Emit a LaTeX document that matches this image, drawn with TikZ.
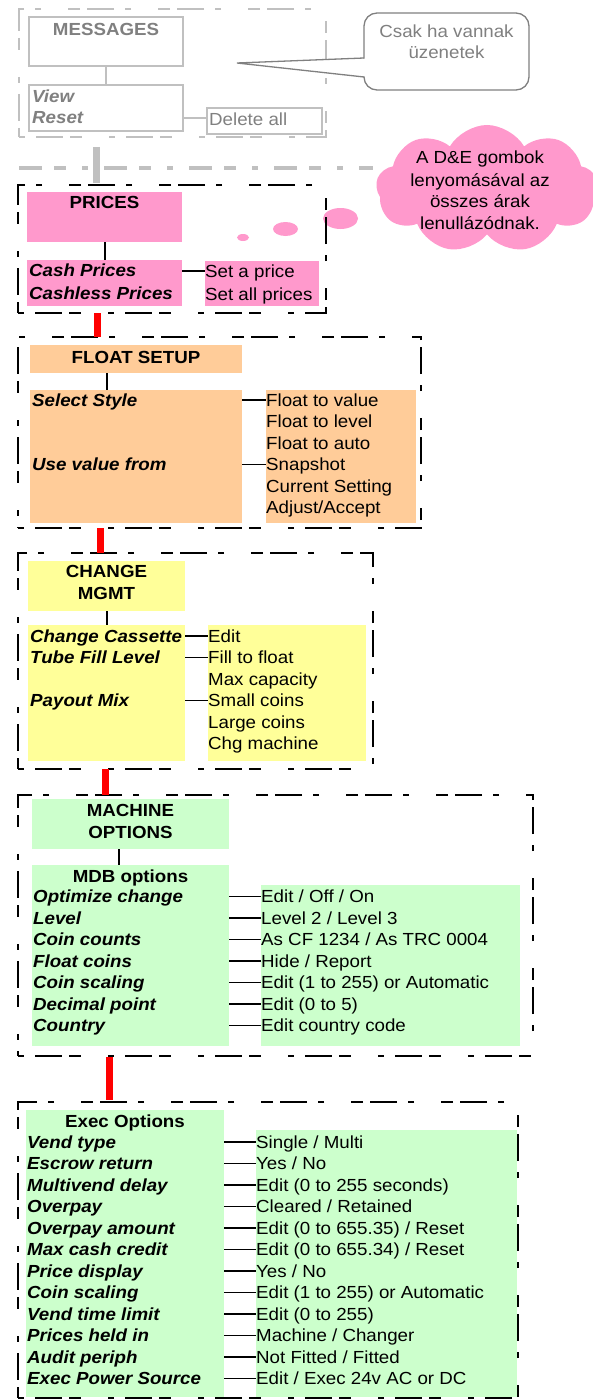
\documentclass[tikz,border=0pt]{standalone}
\usepackage{fontspec}
\setmainfont{Liberation Sans}[FakeStretch=1.07]
\usetikzlibrary{shapes.symbols,shapes.geometric}
\definecolor{pinkfill}{HTML}{FF99CC}
\definecolor{orangefill}{HTML}{FFCC99}
\definecolor{yellowfill}{HTML}{FFFF99}
\definecolor{greenfill}{HTML}{CCFFCC}
\definecolor{framegray}{HTML}{C0C0C0}
\definecolor{textgray}{HTML}{808080}
\newcommand{\boxfont}{\fontsize{17.5pt}{21.5pt}\selectfont}

\begin{document}
\begin{tikzpicture}[
    x=1pt, y=-1pt,
    panel/.style={rectangle, anchor=north west, inner sep=0pt, outer sep=0pt},
    pinkbox/.style={panel, fill=pinkfill},
    orangebox/.style={panel, fill=orangefill},
    yellowbox/.style={panel, fill=yellowfill},
    greenbox/.style={panel, fill=greenfill},
    msgbox/.style={panel, draw=framegray, line width=1.3pt, fill=white},
    notebox/.style={panel, rounded corners=13pt, draw=textgray, line width=1.3pt, fill=white},
    frame/.style={panel, draw=black, line width=2.2pt, dash pattern=on 6pt off 11pt on 27pt off 7pt on 12pt off 27pt},
    grayframe/.style={frame, draw=framegray},
    bubble/.style={ellipse, fill=pinkfill, inner sep=0pt},
    itemtext/.style={anchor=base west, inner sep=0pt, text height=15pt, text depth=3pt, font=\boxfont\bfseries\itshape},
    opttext/.style={anchor=base west, inner sep=0pt, text height=15pt, text depth=3pt, font=\boxfont},
    titletext/.style={anchor=base, inner sep=0pt, font=\boxfont\bfseries},
    notetext/.style={anchor=base, inner sep=0pt, font=\boxfont},
    link/.style={draw=black, line width=1.3pt},
    graylink/.style={link, draw=framegray},
    redlink/.style={draw=red, line width=7pt},
    sepline/.style={draw=framegray, line width=4pt, dash pattern=on 23pt off 12pt on 12pt off 16pt on 6pt off 16pt}
]
\useasboundingbox (0,0) rectangle (592,1399);

% Messages (greyed out)
\node[grayframe, minimum width=307pt, minimum height=128pt] (msgframe) at (19,9) {};
\node[msgbox, minimum width=154pt, minimum height=49pt] (msgtitle) at (29,17) {};
\node[msgbox, minimum width=154pt, minimum height=46pt] (msgitems) at (29,85) {};
\node[msgbox, minimum width=115pt, minimum height=26pt] (msgdel) at (207,108) {};
\node[titletext, text=textgray] (msgttl) at (106,36) {MESSAGES};
\node[itemtext, text=textgray] (view) at (32,103) {View};
\node[itemtext, text=textgray] (reset) at (32,124) {Reset};
\node[opttext, text=textgray] (delall) at (209,126) {Delete all};
\draw[graylink] ([xshift=77pt]msgtitle.south west) -- ([xshift=77pt]msgitems.north west);
\draw[graylink] (msgitems.east |- reset) -- (msgdel.west |- reset);

% Callout
\node[notebox, minimum width=165pt, minimum height=77pt] (msgnote) at (364,13) {};
\coordinate (notetip) at (237,63);
\fill[white] ([yshift=-45.6pt]msgnote.north west) -- ([xshift=2pt,yshift=-45.6pt]msgnote.north west)
    -- ([xshift=2pt,yshift=-63.4pt]msgnote.north west) -- ([yshift=-63.4pt]msgnote.north west) -- (notetip) -- cycle;
\draw[draw=textgray, line width=1.3pt] ([yshift=-45pt]msgnote.north west) -- (notetip) -- ([yshift=-64pt]msgnote.north west);
\node[notetext, text=textgray] (note1) at (446.5,38) {Csak ha vannak};
\node[notetext, text=textgray] (note2) at (446.5,59) {üzenetek};

% Separator
\coordinate (sepL) at (19,168);
\coordinate (sepR) at (373,168);
\draw[sepline] (sepL) -- (sepR);

% Cloud note
\node[bubble, minimum width=12pt, minimum height=7pt] (bub3) at (243,237.5) {};
\node[bubble, minimum width=25pt, minimum height=14pt] (bub2) at (285.5,229) {};
\node[bubble, minimum width=35pt, minimum height=21pt] (bub1) at (340.5,218.5) {};
\node[cloud, cloud puffs=9, cloud puff arc=120, cloud ignores aspect, fill=pinkfill, minimum width=222pt, minimum height=128pt, inner sep=0pt] (dnote) at (487,189) {};
\node[notetext] (dnote1) at (480,164) {A D\&E gombok};
\node[notetext] (dnote2) at (480,186) {lenyomásával az};
\node[notetext] (dnote3) at (480,207.5) {összes árak};
\node[notetext] (dnote4) at (480,229) {lenullázódnak.};

% Prices
\node[frame, minimum width=308pt, minimum height=128pt] (pricesframe) at (18,185) {};
\node[pinkbox, minimum width=155pt, minimum height=50pt] (pricestitle) at (27,192) {};
\node[pinkbox, minimum width=155pt, minimum height=46pt] (priceitems) at (27,260) {};
\node[pinkbox, minimum width=114pt, minimum height=45pt] (priceopts) at (205,261) {};
\node[titletext] (pricesttl) at (104.5,208) {PRICES};
\node[itemtext] (cashp) at (29,276) {Cash Prices};
\node[itemtext] (cashlessp) at (29,299) {Cashless Prices};
\node[opttext] (setone) at (205,277) {Set a price};
\node[opttext] (setall) at (205,300) {Set all prices};
\draw[link] ([xshift=78pt]pricestitle.south west) -- ([xshift=78pt]priceitems.north west);
\draw[link] (priceitems.east |- setone) -- (setone.west);

% Float setup
\node[frame, minimum width=403pt, minimum height=191pt] (floatframe) at (18,337) {};
\node[orangebox, minimum width=212pt, minimum height=28pt] (floattitle) at (30,345) {};
\node[orangebox, minimum width=212pt, minimum height=133pt] (floatitems) at (30,390) {};
\node[orangebox, minimum width=150pt, minimum height=133pt] (floatopts) at (266,390) {};
\node[titletext] (floatttl) at (136,363) {FLOAT SETUP};
\node[itemtext] (selstyle) at (32,406) {Select Style};
\node[itemtext] (usevalue) at (32,470.5) {Use value from};
\node[opttext] (fto1) at (266,406) {Float to value};
\node[opttext] (fto2) at (266,427.5) {Float to level};
\node[opttext] (fto3) at (266,449) {Float to auto};
\node[opttext] (fto4) at (266,470.5) {Snapshot};
\node[opttext] (fto5) at (266,492) {Current Setting};
\node[opttext] (fto6) at (266,513.5) {Adjust/Accept};
\draw[link] ([xshift=77pt]floattitle.south west) -- ([xshift=77pt]floatitems.north west);
\draw[link] (floatitems.east |- fto1) -- (fto1.west);
\draw[link] (floatitems.east |- fto4) -- (fto4.west);

% Change management
\node[frame, minimum width=355pt, minimum height=216pt] (chgframe) at (18,553) {};
\node[yellowbox, minimum width=157pt, minimum height=50pt] (chgtitle) at (28,561) {};
\node[yellowbox, minimum width=157pt, minimum height=136pt] (chgitems) at (28,625) {};
\node[yellowbox, minimum width=158pt, minimum height=136pt] (chgopts) at (208,625) {};
\node[titletext] (chgttl1) at (106.5,577) {CHANGE};
\node[titletext] (chgttl2) at (106.5,599) {MGMT};
\node[itemtext] (cassette) at (30,642) {Change Cassette};
\node[itemtext] (tubefill) at (30,663.5) {Tube Fill Level};
\node[itemtext] (payout) at (30,706.5) {Payout Mix};
\node[opttext] (chg1) at (208,642) {Edit};
\node[opttext] (chg2) at (208,663.5) {Fill to float};
\node[opttext] (chg3) at (208,685) {Max capacity};
\node[opttext] (chg4) at (208,706.5) {Small coins};
\node[opttext] (chg5) at (208,728) {Large coins};
\node[opttext] (chg6) at (208,749.5) {Chg machine};
\draw[link] ([xshift=79pt]chgtitle.south west) -- ([xshift=79pt]chgitems.north west);
\draw[link] (chgitems.east |- chg1) -- (chg1.west);
\draw[link] (chgitems.east |- chg2) -- (chg2.west);
\draw[link] (chgitems.east |- chg4) -- (chg4.west);

% Machine options
\node[frame, minimum width=515pt, minimum height=261pt] (machframe) at (18,795) {};
\node[greenbox, minimum width=197pt, minimum height=50pt] (machtitle) at (32,799) {};
\node[greenbox, minimum width=197pt, minimum height=181pt] (machitems) at (32,865) {};
\node[greenbox, minimum width=259pt, minimum height=161pt] (machopts) at (261,885) {};
\node[titletext] (machttl1) at (130.5,816) {MACHINE};
\node[titletext] (machttl2) at (130.5,838) {OPTIONS};
\node[titletext] (mdbttl) at (130.5,882) {MDB options};
\node[itemtext] (optchg) at (33,902.5) {Optimize change};
\node[itemtext] (level) at (33,924) {Level};
\node[itemtext] (coincnt) at (33,945.5) {Coin counts};
\node[itemtext] (floatcoin) at (33,967) {Float coins};
\node[itemtext] (coinscale) at (33,988.5) {Coin scaling};
\node[itemtext] (decpoint) at (33,1010) {Decimal point};
\node[itemtext] (country) at (33,1031.5) {Country};
\node[opttext] (mdb1) at (261,902.5) {Edit / Off / On};
\node[opttext] (mdb2) at (261,924) {Level 2 / Level 3};
\node[opttext] (mdb3) at (261,945.5) {As CF 1234 / As TRC 0004};
\node[opttext] (mdb4) at (261,967) {Hide / Report};
\node[opttext] (mdb5) at (261,988.5) {Edit (1 to 255) or Automatic};
\node[opttext] (mdb6) at (261,1010) {Edit (0 to 5)};
\node[opttext] (mdb7) at (261,1031.5) {Edit country code};
\draw[link] ([xshift=87pt]machtitle.south west) -- ([xshift=87pt]machitems.north west);
\draw[link] (machitems.east |- mdb1) -- (mdb1.west);
\draw[link] (machitems.east |- mdb2) -- (mdb2.west);
\draw[link] (machitems.east |- mdb3) -- (mdb3.west);
\draw[link] (machitems.east |- mdb4) -- (mdb4.west);
\draw[link] (machitems.east |- mdb5) -- (mdb5.west);
\draw[link] (machitems.east |- mdb6) -- (mdb6.west);
\draw[link] (machitems.east |- mdb7) -- (mdb7.west);

% Exec options
\node[frame, minimum width=500pt, minimum height=296pt] (execframe) at (18,1102) {};
\node[greenbox, minimum width=198pt, minimum height=287pt] (execitems) at (26,1110) {};
\node[greenbox, minimum width=261pt, minimum height=267pt] (execopts) at (256,1130) {};
\node[titletext] (execttl) at (125,1127) {Exec Options};
\node[itemtext] (vendtype) at (27,1148) {Vend type};
\node[itemtext] (escrow) at (27,1169.5) {Escrow return};
\node[itemtext] (multivend) at (27,1191) {Multivend delay};
\node[itemtext] (overpay) at (27,1212.5) {Overpay};
\node[itemtext] (overamt) at (27,1234) {Overpay amount};
\node[itemtext] (maxcash) at (27,1255.5) {Max cash credit};
\node[itemtext] (pricedisp) at (27,1277) {Price display};
\node[itemtext] (execscale) at (27,1298.5) {Coin scaling};
\node[itemtext] (vendtime) at (27,1320) {Vend time limit};
\node[itemtext] (heldin) at (27,1341.5) {Prices held in};
\node[itemtext] (audit) at (27,1363) {Audit periph};
\node[itemtext] (power) at (27,1384.5) {Exec Power Source};
\node[opttext] (ex1) at (256,1148) {Single / Multi};
\node[opttext] (ex2) at (256,1169.5) {Yes / No};
\node[opttext] (ex3) at (256,1191) {Edit (0 to 255 seconds)};
\node[opttext] (ex4) at (256,1212.5) {Cleared / Retained};
\node[opttext] (ex5) at (256,1234) {Edit (0 to 655.35) / Reset};
\node[opttext] (ex6) at (256,1255.5) {Edit (0 to 655.34) / Reset};
\node[opttext] (ex7) at (256,1277) {Yes / No};
\node[opttext] (ex8) at (256,1298.5) {Edit (1 to 255) or Automatic};
\node[opttext] (ex9) at (256,1320) {Edit (0 to 255)};
\node[opttext] (ex10) at (256,1341.5) {Machine / Changer};
\node[opttext] (ex11) at (256,1363) {Not Fitted / Fitted};
\node[opttext] (ex12) at (256,1384.5) {Edit / Exec 24v AC or DC};
\draw[link] (execitems.east |- ex1) -- (ex1.west);
\draw[link] (execitems.east |- ex2) -- (ex2.west);
\draw[link] (execitems.east |- ex3) -- (ex3.west);
\draw[link] (execitems.east |- ex4) -- (ex4.west);
\draw[link] (execitems.east |- ex5) -- (ex5.west);
\draw[link] (execitems.east |- ex6) -- (ex6.west);
\draw[link] (execitems.east |- ex7) -- (ex7.west);
\draw[link] (execitems.east |- ex8) -- (ex8.west);
\draw[link] (execitems.east |- ex9) -- (ex9.west);
\draw[link] (execitems.east |- ex10) -- (ex10.west);
\draw[link] (execitems.east |- ex11) -- (ex11.west);
\draw[link] (execitems.east |- ex12) -- (ex12.west);

% Menu links
\draw[draw=framegray, line width=7pt] ([xshift=77.5pt,yshift=-10pt]msgframe.south west) -- ([xshift=78.5pt,yshift=2pt]pricesframe.north west);
\draw[redlink] ([xshift=79.5pt]pricesframe.south west) -- ([xshift=79.5pt]floatframe.north west);
\draw[redlink] ([xshift=82pt]floatframe.south west) -- ([xshift=82pt]chgframe.north west);
\draw[redlink] ([xshift=87.5pt]chgframe.south west) -- ([xshift=87.5pt]machframe.north west);
\draw[redlink] ([xshift=91.5pt,yshift=-1pt]machframe.south west) -- ([xshift=91.5pt,yshift=2pt]execframe.north west);

\end{tikzpicture}
\end{document}
